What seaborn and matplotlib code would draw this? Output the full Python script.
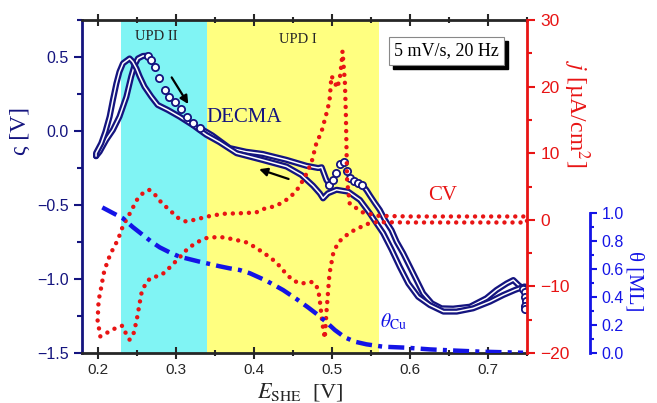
import matplotlib
matplotlib.use("Agg")
import matplotlib.pyplot as plt
import matplotlib.transforms as mtransforms
from matplotlib.ticker import MultipleLocator
import seaborn as sns

sns.set_style("ticks")
plt.rcParams['font.family'] = ['Liberation Sans', 'DejaVu Sans']
plt.rcParams['mathtext.fontset'] = 'stix'

NAVY = '#14147f'
RED = '#e81414'
BLUE = '#1414e6'
SERIF = ['Liberation Serif', 'DejaVu Serif']

# potential windows of the two UPD regions
upd2_range = (0.23, 0.34)
upd1_range = (0.34, 0.56)

# DECMA signal, positive sweep (dense parts drawn as a band, sparse parts as single circles)
p1_x = [0.198, 0.2026, 0.211, 0.2196, 0.228, 0.2368, 0.243, 0.2474, 0.2517, 0.258, 0.2645]
p1_z = [-0.17, -0.14, -0.06, 0.007, 0.097, 0.23, 0.367, 0.446, 0.49, 0.507, 0.509]
p2_x = [0.2645, 0.269, 0.273, 0.279, 0.286, 0.292, 0.299, 0.307, 0.3145, 0.322, 0.331]
p2_z = [0.509, 0.48, 0.43, 0.356, 0.277, 0.23, 0.198, 0.147, 0.093, 0.052, 0.02]
p3_x = [0.331, 0.347, 0.369, 0.39, 0.4115, 0.442, 0.4675, 0.4825, 0.487, 0.493, 0.497]
p3_z = [0.02, -0.03, -0.115, -0.14, -0.155, -0.195, -0.235, -0.25, -0.245, -0.33, -0.362]
p4_x = [0.497, 0.5017, 0.506, 0.510, 0.5158, 0.519, 0.523, 0.528, 0.5337, 0.539]
p4_z = [-0.362, -0.33, -0.286, -0.223, -0.211, -0.268, -0.32, -0.336, -0.35, -0.365]
p5_x = [0.539, 0.5445, 0.5487, 0.555, 0.5615, 0.568, 0.5765, 0.583, 0.5914, 0.6, 0.6085,
        0.617, 0.628, 0.6405, 0.6555, 0.677, 0.698, 0.711, 0.724, 0.7325, 0.739, 0.745]
p5_z = [-0.365, -0.4, -0.435, -0.485, -0.534, -0.6, -0.67, -0.748, -0.826, -0.917, -1.007,
        -1.097, -1.164, -1.198, -1.2, -1.187, -1.13, -1.074, -1.03, -1.007, -1.04, -1.065]
p6_x = [0.745, 0.747, 0.748, 0.7485, 0.748, 0.7475]
p6_z = [-1.065, -1.09, -1.12, -1.15, -1.18, -1.2]

# DECMA signal, negative sweep
n_x = [0.747, 0.7346, 0.7196, 0.7025, 0.681, 0.66, 0.643, 0.6256, 0.6106, 0.598, 0.587,
       0.5765, 0.5658, 0.553, 0.5487, 0.536, 0.521, 0.506, 0.495, 0.4888, 0.4846, 0.476,
       0.461, 0.442, 0.4115, 0.378, 0.356, 0.339, 0.322, 0.305, 0.29, 0.277, 0.2688, 0.26,
       0.254, 0.2496, 0.245, 0.241, 0.2325, 0.228, 0.224, 0.2196, 0.2154, 0.21, 0.2047,
       0.198, 0.198]
n_z = [-1.05, -1.074, -1.108, -1.153, -1.198, -1.22, -1.22, -1.176, -1.12, -1.03, -0.917,
       -0.8, -0.69, -0.59, -0.556, -0.466, -0.41, -0.397, -0.421, -0.455, -0.421, -0.37,
       -0.297, -0.24, -0.196, -0.15, -0.075, -0.025, 0.04, 0.097, 0.142, 0.176, 0.232, 0.30,
       0.367, 0.424, 0.468, 0.49, 0.457, 0.40, 0.32, 0.21, 0.097, -0.005, -0.083,
       -0.15, -0.17]

# cyclic voltammogram, anodic then cathodic branch
cv_up_x = [0.2035, 0.2, 0.2013, 0.2047, 0.2077, 0.213, 0.2196, 0.226, 0.2325, 0.241, 0.2504,
           0.258, 0.266, 0.274, 0.2816, 0.289, 0.303, 0.313, 0.324, 0.341, 0.36, 0.386, 0.403,
           0.4115, 0.429, 0.446, 0.456, 0.465, 0.474, 0.48, 0.487, 0.493, 0.497, 0.4996,
           0.5038, 0.507, 0.5103, 0.5124, 0.5137, 0.5167, 0.518, 0.5188, 0.5196, 0.523, 0.54,
           0.56, 0.6, 0.65, 0.7, 0.75]
cv_up_j = [-17.5, -15.1, -12.1, -10.1, -8.1, -6.1, -4.4, -3.0, -0.9, 0.9, 3.0,
           4.0, 4.5, 3.7, 2.6, 1.8, 0.3, -0.25, 0.0, 0.5, 0.9, 1.0, 1.1,
           1.6, 2.1, 3.3, 4.6, 6.3, 8.6, 11.4, 13.3, 15.9, 17.8, 21.6,
           20.6, 19.8, 21.3, 23.4, 25.3, 20.8, 15.9, 10.8, 5.8, 2.4, 1.1,
           0.6, 0.5, 0.5, 0.5, 0.5]
cv_dn_x = [0.75, 0.7, 0.65, 0.6, 0.557, 0.5445, 0.523, 0.508, 0.5017, 0.497, 0.495, 0.493,
           0.491, 0.488, 0.4846, 0.4825, 0.477, 0.471, 0.461, 0.45, 0.44, 0.429, 0.418, 0.403,
           0.391, 0.373, 0.356, 0.339, 0.3286, 0.316, 0.305, 0.2945, 0.286, 0.2795, 0.269,
           0.262, 0.256, 0.253, 0.25, 0.246, 0.241, 0.236, 0.2317, 0.224, 0.2145, 0.2035]
cv_dn_j = [-0.4, -0.4, -0.4, -0.4, -0.35, -0.65, -1.9, -3.4, -5.1, -8.1, -11.1, -14.1,
           -17.8, -15.6, -12.1, -10.4, -9.4, -9.3, -9.6, -9.1, -7.9, -6.4, -5.4, -4.2,
           -3.4, -2.9, -2.55, -2.75, -3.3, -4.25, -5.65, -6.9, -7.9, -8.4, -8.65,
           -9.4, -11.1, -13.1, -15.1, -17.1, -18.0, -17.0, -15.9, -16.2, -16.8, -17.5]

# Cu coverage
th_x = [0.206, 0.2325, 0.245, 0.258, 0.269, 0.2795, 0.292, 0.305, 0.318, 0.331, 0.3436, 0.356,
        0.369, 0.382, 0.395, 0.416, 0.4376, 0.4547, 0.4696, 0.4825, 0.4923, 0.504, 0.5167,
        0.5295, 0.5445, 0.566, 0.596, 0.6256, 0.66, 0.69, 0.724, 0.745]
th_v = [1.04, 0.962, 0.90, 0.843, 0.795, 0.755, 0.72, 0.688, 0.67, 0.652, 0.636, 0.62,
        0.605, 0.593, 0.57, 0.517, 0.45, 0.386, 0.326, 0.271, 0.224, 0.164, 0.112,
        0.081, 0.062, 0.045, 0.038, 0.026, 0.017, 0.01, 0.005, 0.002]

fig = plt.figure(figsize=(6.57, 4.03), dpi=100)
ax = fig.add_axes([0.1248, 0.124, 0.6773, 0.8264])
ax.axvspan(*upd2_range, color='#80f4f4', lw=0, zorder=0)
ax.axvspan(*upd1_range, color='#ffff80', lw=0, zorder=0)

# DECMA: dense segments as a band of overlapping circles
for xs, zs in [(p1_x, p1_z), (p3_x, p3_z), (p5_x, p5_z), (n_x, n_z)]:
    sns.lineplot(x=xs, y=zs, ax=ax, sort=False, estimator=None, color=NAVY, lw=4.4,
                 solid_capstyle='round', zorder=3)
    sns.lineplot(x=xs, y=zs, ax=ax, sort=False, estimator=None, color='white', lw=1.1,
                 solid_capstyle='round', zorder=3)
for xs, zs in [(p2_x, p2_z), (p4_x, p4_z), (p6_x, p6_z)]:
    ax.plot(xs, zs, ls='none', marker='o', ms=5.2, mfc='white', mec=NAVY, mew=1.3, zorder=4)

ax.set_xlim(0.18, 0.75)
ax.set_ylim(-1.5, 0.75)
ax.set_xticks([0.2, 0.3, 0.4, 0.5, 0.6, 0.7])
ax.xaxis.set_minor_locator(MultipleLocator(0.05))
ax.set_yticks([-1.5, -1.0, -0.5, 0.0, 0.5])
ax.yaxis.set_minor_locator(MultipleLocator(0.25))
ax.tick_params(axis='x', which='both', top=True, direction='inout', width=1.5, labelsize=11)
ax.tick_params(axis='x', which='major', length=8)
ax.tick_params(axis='x', which='minor', length=5)
ax.tick_params(axis='y', which='both', direction='out', color=NAVY, labelcolor=NAVY,
               width=1.5, labelsize=11.5)
ax.tick_params(axis='y', which='major', length=6)
ax.tick_params(axis='y', which='minor', length=3.5)
ax.spines['left'].set_color(NAVY)
ax.spines['left'].set_linewidth(2)
ax.spines['top'].set_linewidth(2)
ax.spines['bottom'].set_linewidth(2)
ax.spines['right'].set_visible(False)
ax.set_xlabel(r'$E_{\rm SHE}$  [V]', fontsize=16, family=SERIF)
ax.xaxis.set_label_coords(0.49, -0.085)
ax.set_ylabel('ς [V]', fontsize=17, family=SERIF, color=NAVY)
ax.yaxis.set_label_coords(-0.115, 0.667)

ax.annotate('', xy=(0.318, 0.166), xytext=(0.293, 0.378),
            arrowprops=dict(arrowstyle='-|>', color='black', lw=1.6, mutation_scale=12))
ax.annotate('', xy=(0.4035, -0.252), xytext=(0.448, -0.33),
            arrowprops=dict(arrowstyle='-|>', color='black', lw=1.6, mutation_scale=12))
ax.text(0.275, 0.637, 'UPD II', ha='center', va='center', fontsize=10.5, family=SERIF)
ax.text(0.457, 0.615, 'UPD I', ha='center', va='center', fontsize=10.5, family=SERIF)
ax.text(0.388, 0.088, 'DECMA', ha='center', va='center', fontsize=15, family=SERIF, color=NAVY)
ax.text(0.5615, -1.325, r'$\theta_{\rm Cu}$', ha='left', va='baseline', fontsize=14, color=BLUE)

box_x, box_y = 0.820, 0.907
shadow_tr = mtransforms.offset_copy(ax.transAxes, fig=fig, x=4, y=-4, units='dots')
ax.text(box_x, box_y, '5 mV/s, 20 Hz', transform=shadow_tr, ha='center', va='center',
        fontsize=13, family=SERIF, color='black', zorder=5,
        bbox=dict(boxstyle='square,pad=0.28', fc='black', ec='black'))
ax.text(box_x, box_y, '5 mV/s, 20 Hz', transform=ax.transAxes, ha='center', va='center',
        fontsize=13, family=SERIF, color='black', zorder=6,
        bbox=dict(boxstyle='square,pad=0.28', fc='white', ec='#888888', lw=0.8))

# CV on the red axis
ax2 = ax.twinx()
sns.lineplot(x=cv_up_x + cv_dn_x, y=cv_up_j + cv_dn_j, ax=ax2, sort=False, estimator=None,
             color=RED, lw=3.2, linestyle=(0, (0.01, 1.8)), dash_capstyle='round')
ax2.set_ylim(-20, 30)
ax2.set_yticks([-20, -10, 0, 10, 20, 30])
ax2.yaxis.set_minor_locator(MultipleLocator(5))
ax2.tick_params(axis='y', which='both', direction='out', color=RED, labelcolor=RED,
                width=1.5, labelsize=12.5)
ax2.tick_params(axis='y', which='major', length=6)
ax2.tick_params(axis='y', which='minor', length=3.5)
for s in ['left', 'top', 'bottom']:
    ax2.spines[s].set_visible(False)
ax2.spines['right'].set_color(RED)
ax2.spines['right'].set_linewidth(2)
ax2.set_ylabel(r'$j$ [µA/cm$^2$]', fontsize=17, family=SERIF, color=RED, rotation=270)
ax2.yaxis.set_label_coords(1.145, 0.718)
ax2.text(0.642, 3.6, 'CV', ha='center', va='center', fontsize=15, family=SERIF, color=RED)

# coverage on the offset blue axis
ax3 = ax.twinx()
sns.lineplot(x=th_x, y=th_v, ax=ax3, sort=False, estimator=None, color=BLUE, lw=3.2,
             linestyle=(0, (3.6, 1.4, 0.9, 1.4)))
ax3.set_ylim(0, 2.379)
ax3.spines['right'].set_position(('axes', 1.1416))
ax3.spines['right'].set_bounds(0, 1)
ax3.spines['right'].set_color(BLUE)
ax3.spines['right'].set_linewidth(2)
for s in ['left', 'top', 'bottom']:
    ax3.spines[s].set_visible(False)
ax3.set_yticks([0.0, 0.2, 0.4, 0.6, 0.8, 1.0])
ax3.yaxis.set_minor_locator(plt.FixedLocator([0.1, 0.3, 0.5, 0.7, 0.9]))
ax3.set_ylim(0, 2.379)
ax3.tick_params(axis='y', which='both', direction='out', color=BLUE, labelcolor=BLUE,
                width=1.5, labelsize=11.5)
ax3.tick_params(axis='y', which='major', length=5)
ax3.tick_params(axis='y', which='minor', length=3)
ax3.set_ylabel('θ [ML]', fontsize=15, family=SERIF, color=BLUE, rotation=270)
ax3.yaxis.set_label_coords(1.262, 0.216)

fig.savefig('out.png', dpi=100)
